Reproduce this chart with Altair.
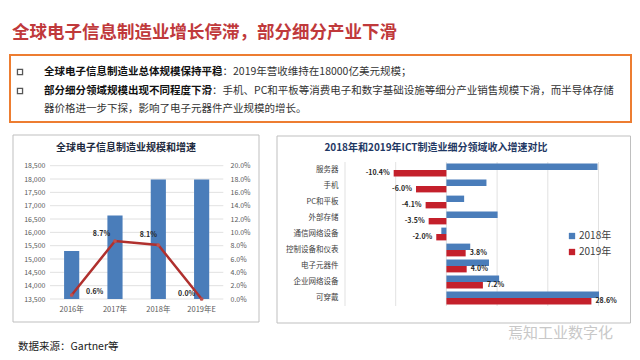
import altair as alt
import pandas as pd

FONT = "Noto Sans CJK SC"
BLUE = "#4A7DBA"
RED = "#C4202B"
LINE = "#B0302E"

# ---------------- data ----------------
years = ["2016年", "2017年", "2018年", "2019年E"]
revenue = [15300, 16630, 17980, 17980]
growth = [0.6, 8.7, 8.1, 0.0]
left_ticks = [13500, 14000, 14500, 15000, 15500, 16000, 16500, 17000, 17500, 18000, 18500]
pct_ticks = [0, 2, 4, 6, 8, 10, 12, 14, 16, 18, 20]

categories = ["服务器", "手机", "PC和平板", "外部存储", "通信网络设备",
              "控制设备和仪表", "电子元器件", "企业网络设备", "可穿戴"]
g2018 = [29.8, 7.9, 3.5, 10.1, -1.0, 4.7, 8.4, 10.4, 30.1]
g2019 = [-10.4, -6.0, -4.1, -3.5, -2.0, 3.8, 4.0, 7.2, 28.6]
series = ["2018年", "2019年"]
x_ticks = [-20, -10, 0, 10, 20, 30]

one = pd.DataFrame({"a": [0]})


def txt(s, x, y, size, color="#333333", weight="normal", align="left", font=FONT):
    return alt.Chart(one).mark_text(
        align=align, baseline="middle", fontSize=size, font=font,
        fontWeight=weight, color=color
    ).encode(x=alt.value(x), y=alt.value(y), text=alt.value(s))


def frame(x1, y1, x2, y2, color, w):
    return alt.Chart(one).mark_rect(fillOpacity=0, stroke=color, strokeWidth=w).encode(
        x=alt.value(x1), x2=alt.value(x2), y=alt.value(y1), y2=alt.value(y2))


# ---------------- header / annotations ----------------
FS = 10.5
annot = alt.layer(
    txt("全球电子信息制造业增长停滞，部分细分产业下滑", 4, 25, 17.5, "#C0393B", "bold"),
    frame(2, 47, 623, 114, "#ED7D31", 2),
    alt.Chart(one).mark_point(shape="square", filled=False, size=26, color="#111111", strokeWidth=1.3)
    .encode(x=alt.value(12), y=alt.value(64)),
    alt.Chart(one).mark_point(shape="square", filled=False, size=26, color="#111111", strokeWidth=1.3)
    .encode(x=alt.value(12), y=alt.value(83)),
    txt("全球电子信息制造业总体规模保持平稳", 36, 64, FS, "#111111", "bold"),
    txt("：2019年营收维持在18000亿美元规模；", 36 + 17 * FS, 64, FS, "#333333"),
    txt("部分细分领域规模出现不同程度下滑", 36, 83, FS, "#111111", "bold"),
    txt("：手机、PC和平板等消费电子和数字基础设施等细分产业销售规模下滑，而半导体存储",
        36 + 16 * FS, 83, FS, "#333333"),
    txt("器价格进一步下探，影响了电子元器件产业规模的增长。", 36, 101, FS, "#333333"),
    frame(5, 127, 251, 314, "#BFBFBF", 1),
    txt("全球电子信息制造业规模和增速", 118, 140, 10, "#1E2A3E", "bold", "center"),
    frame(269, 128, 622.5, 315, "#BFBFBF", 1),
    txt("2018年和2019年ICT制造业细分领域收入增速对比", 428, 140, 10, "#1F3864", "bold", "center"),
    txt("数据来源：Gartner等", 10, 339, 10.5, "#222222"),
    txt("焉知工业数字化", 500, 325, 15, "#C8C8C8"),
)

# ---------------- left chart ----------------
left_df = pd.DataFrame({"year": years, "revenue": revenue, "growth": growth})
left_df["label"] = [f"{g:.1f}%" for g in growth]
tick_df = pd.DataFrame({"revenue": left_ticks})

xL = alt.X("year:N", sort=years,
           scale=alt.Scale(type="band", range=[42, 215.3], paddingInner=0.65, paddingOuter=0.325),
           axis=alt.Axis(orient="bottom", offset=-53, title=None, ticks=False, domain=False,
                         labelAngle=0, labelPadding=6, labelFont=FONT, labelFontSize=7.5,
                         labelColor="#595959", grid=False))
yscaleL = alt.Scale(domain=[13500, 18500], range=[291, 157.7], zero=False, nice=False)
axisL = alt.Axis(orient="left", offset=-42, values=left_ticks, title=None, grid=False,
                 ticks=False, domain=False, labelPadding=5, labelFont=FONT,
                 labelFontSize=7, labelColor="#595959")
yL = alt.Y("revenue:Q", scale=yscaleL, axis=axisL)

gridL = alt.Chart(tick_df).mark_rule(color="#D9D9D9", strokeWidth=0.8).encode(
    y=yL, x=alt.value(42), x2=alt.value(215.3))
barsL = alt.Chart(left_df).mark_bar(color=BLUE).encode(x=xL, y=yL, y2=alt.datum(13500))

yscaleG = alt.Scale(domain=[0, 20], range=[291, 157.7], nice=False)
yG = alt.Y("growth:Q", scale=yscaleG,
           axis=alt.Axis(orient="right", offset=-408.7, values=pct_ticks, title=None, grid=False,
                         ticks=False, domain=False, labelPadding=6.7, labelFont=FONT,
                         labelFontSize=7, labelColor="#595959",
                         labelExpr="format(datum.value, '.1f') + '%'"))
lineL = alt.Chart(left_df).mark_line(color=LINE, strokeWidth=2.5).encode(x=xL, y=yG)
ptsL = alt.Chart(left_df).mark_point(filled=True, color="#C0504D", size=14, opacity=1).encode(x=xL, y=yG)

offsets = {"2016年": (23, -3.5), "2017年": (-13.5, -7), "2018年": (-10, -10), "2019年E": (-15, -5)}
lbls = []
for yr in years:
    dx, dy = offsets[yr]
    lbls.append(
        alt.Chart(left_df).transform_filter(alt.datum.year == yr)
        .mark_text(dx=dx, dy=dy, fontSize=7, fontWeight="bold", font=FONT, color="#262626")
        .encode(x=xL, y=yG, text="label:N"))

left = alt.layer(alt.layer(gridL, barsL), alt.layer(lineL, ptsL, *lbls)).resolve_scale(y="independent")

# ---------------- right chart ----------------
rows = []
for c, a, b in zip(categories, g2018, g2019):
    rows.append({"category": c, "series": series[0], "value": a})
    rows.append({"category": c, "series": series[1], "value": b})
right_df = pd.DataFrame(rows)
right_df["label"] = right_df["value"].map(lambda v: f"{v:.1f}%")
xt_df = pd.DataFrame({"t": x_ticks})

xscaleR = alt.Scale(domain=[-20, 30], range=[337, 590.5], nice=False, zero=False)
xR = alt.X("value:Q", scale=xscaleR,
           axis=alt.Axis(orient="bottom", offset=-46, values=x_ticks, title=None, grid=False,
                         ticks=False, domain=False, labelPadding=6, labelFont=FONT,
                         labelFontSize=8, labelColor="#595959", labelExpr="datum.value + '%'"))
yR = alt.Y("category:N", sort=categories,
           scale=alt.Scale(range=[154, 298], paddingInner=0.2, paddingOuter=0.1),
           axis=alt.Axis(orient="left", offset=-337, title=None, ticks=False, domain=False,
                         labelPadding=7, labelFont=FONT, labelFontSize=7.5, labelColor="#404040",
                         grid=False))
yoR = alt.YOffset("series:N", sort=series)

gridR = alt.Chart(xt_df).mark_rule(color="#D9D9D9", strokeWidth=0.8).encode(
    x=alt.X("t:Q", scale=xscaleR, axis=None), y=alt.value(154), y2=alt.value(298))
barsR = alt.Chart(right_df).mark_bar().encode(
    x=xR, x2=alt.datum(0), y=yR, yOffset=yoR,
    color=alt.Color("series:N", sort=series,
                    scale=alt.Scale(domain=series, range=[BLUE, RED]),
                    legend=alt.Legend(orient="none", legendX=559, legendY=223, title=None,
                                      symbolType="square", symbolSize=40, symbolStrokeWidth=0,
                                      labelFont=FONT, labelFontSize=10, labelColor="#404040",
                                      labelOffset=2, rowPadding=6)))
negL = alt.Chart(right_df).transform_filter(
    (alt.datum.series == series[1]) & (alt.datum.value < 0)
).mark_text(align="right", dx=-4, fontSize=7, fontWeight="bold", font=FONT, color="#262626").encode(
    x=xR, y=yR, yOffset=yoR, text="label:N")
posL = alt.Chart(right_df).transform_filter(
    (alt.datum.series == series[1]) & (alt.datum.value >= 0)
).mark_text(align="left", dx=4, fontSize=7, fontWeight="bold", font=FONT, color="#262626").encode(
    x=xR, y=yR, yOffset=yoR, text="label:N")

right = alt.layer(gridR, barsR, negL, posL)

chart = alt.layer(annot, left, right).resolve_scale(
    x="independent", y="independent", color="independent"
).properties(
    width=624, height=344, padding=0,
    autosize=alt.AutoSizeParams(type="none"),
    background="white",
).configure_view(stroke=None)

chart.save("out.html", embed_options={"renderer": "svg", "actions": False})
